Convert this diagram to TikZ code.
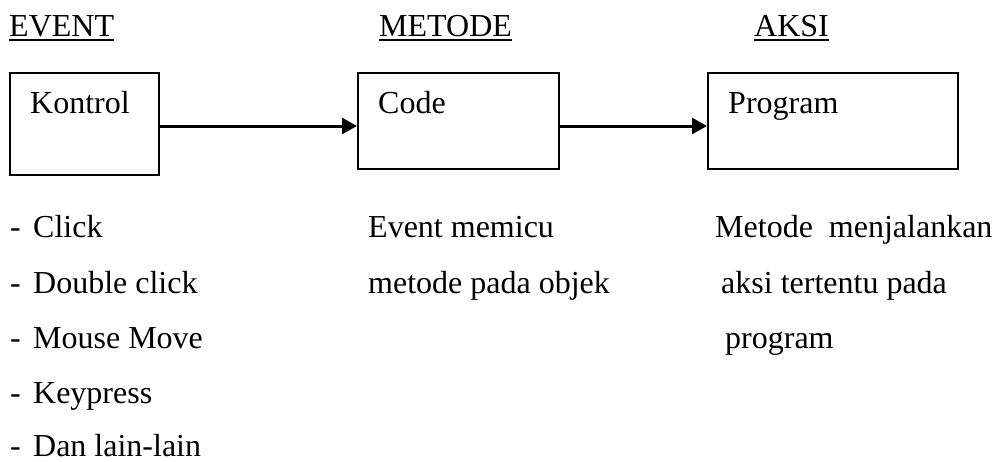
\documentclass[tikz,border=0pt]{standalone}
\usepackage{fontspec}
\setmainfont{Liberation Serif}
\usetikzlibrary{arrows.meta}

\begin{document}
\begin{tikzpicture}[x=1pt,y=-1pt,
  txt/.style={inner sep=0pt,anchor=base west,font=\fontsize{32}{38}\selectfont},
  panel/.style={draw=black,line width=2pt,inner sep=0pt,minimum height=#1},
  link/.style={line width=3pt,-{Triangle[length=15pt,width=16pt]}},
  uline/.style={line width=1.6pt}
]
\useasboundingbox (0,0) rectangle (993,461);

% column headings
\node[txt] (hev) at (9,36) {EVENT};
\node[txt] (hme) at (379,36) {METODE};
\node[txt] (hak) at (754,36) {AKSI};
\foreach \h in {hev,hme,hak}
  \draw[uline] ([yshift=-4pt]\h.base west) -- ([yshift=-4pt]\h.base east);

% boxes
\node[panel=102pt,minimum width=149pt,anchor=north west] (kon) at (9,72) {};
\node[panel=96pt,minimum width=201pt,anchor=north west] (code) at (357,72) {};
\node[panel=96pt,minimum width=250pt,anchor=north west] (prog) at (707,72) {};
\node[txt] (tkon) at (30,113) {Kontrol};
\node[txt] (tcode) at (378,113) {Code};
\node[txt] (tprog) at (728,113) {Program};

% small mark under the first box
\coordinate (m1) at (9,175);
\coordinate (m2) at (18,175);
\draw[line width=2pt] (m1) -- (m2);

% connectors
\coordinate (row) at (0,126);
\draw[link] (kon.east |- row) -- (code.west |- row);
\draw[link] (code.east |- row) -- (prog.west |- row);

% event list
\foreach \t/\yb [count=\i from 0] in {Click/237,Double click/293,Mouse Move/348,Keypress/403,Dan lain-lain/456}
  \node[txt] (ev\i) at (10,\yb) {\makebox[23pt][l]{-}\t};

% method description
\node[txt] (me1) at (368,237) {Event memicu};
\node[txt] (me2) at (368,293) {metode pada objek};

% action description
\node[txt] (ak1) at (715,237) {Metode\ \ menjalankan};
\node[txt] (ak2) at (721,293) {aksi tertentu pada};
\node[txt] (ak3) at (725,348) {program};
\end{tikzpicture}
\end{document}
